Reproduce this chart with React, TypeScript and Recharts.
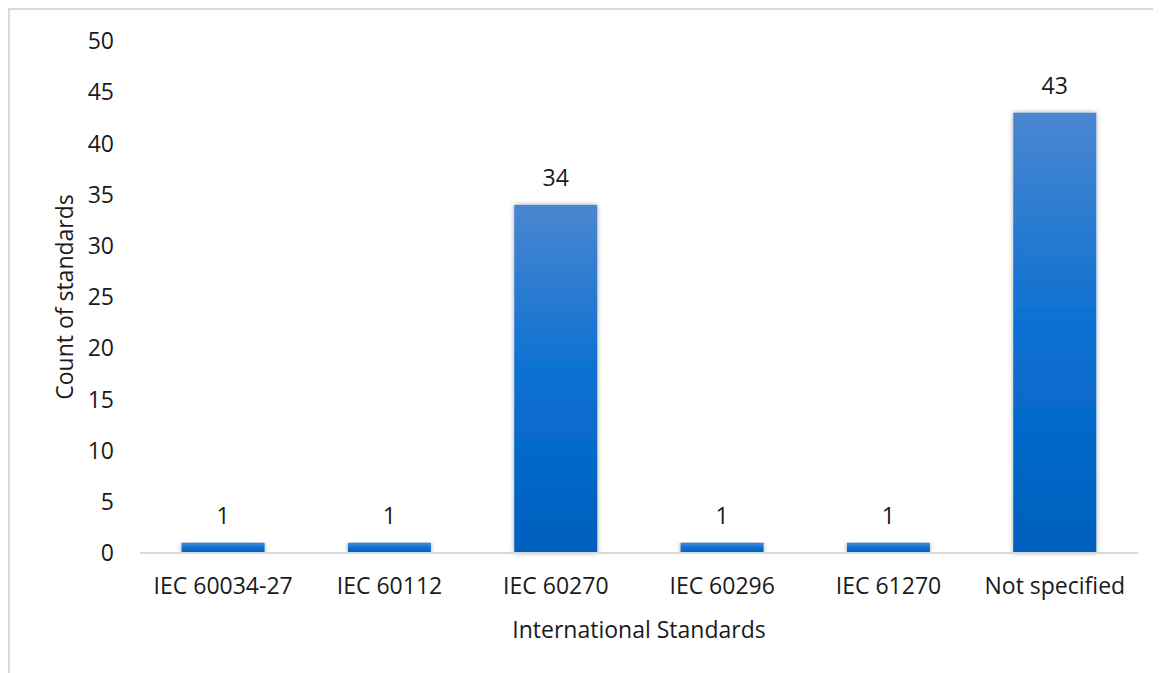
import React from "react";
import { BarChart, Bar, XAxis, YAxis, LabelList, Label } from "recharts";

const categories = ["IEC 60034-27", "IEC 60112", "IEC 60270", "IEC 60296", "IEC 61270", "Not specified"];
const counts = [1, 1, 34, 1, 1, 43];
const yTicks = [0, 5, 10, 15, 20, 25, 30, 35, 40, 45, 50];

const data = categories.map((name, i) => ({ name, count: counts[i] }));

const FONT = "'Open Sans', 'Noto Sans', sans-serif";
const TEXT = "#1a1a1a";
const FS = 23;

const ShadowBar = (props: any) => {
  const { x, y, width, height } = props;
  if (!height || height <= 0) return null;
  return (
    <rect x={x} y={y} width={width} height={height} fill="url(#barGrad)" filter="url(#barShadow)" />
  );
};

export default function App() {
  return (
    <div
      style={{
        width: 1160,
        height: 670,
        borderLeft: "2px solid #d9d9d9",
        borderTop: "2px solid #d9d9d9",
        boxSizing: "border-box",
        position: "relative",
      }}
    >
      <BarChart
        width={1150}
        height={663}
        data={data}
        margin={{ top: 31, right: 22, left: 0, bottom: 0 }}
        barCategoryGap="25%"
        style={{ fontFamily: FONT }}
      >
        <defs>
          <linearGradient id="barGrad" x1="0" y1="0" x2="0" y2="1">
            <stop offset="0%" stopColor="#4a86d0" />
            <stop offset="50%" stopColor="#0a70d2" />
            <stop offset="100%" stopColor="#005fbd" />
          </linearGradient>
          <filter id="barShadow" x="-20%" y="-5%" width="140%" height="110%">
            <feGaussianBlur in="SourceAlpha" stdDeviation="2.5" />
            <feOffset dx="0" dy="0" result="blur" />
            <feComponentTransfer>
              <feFuncA type="linear" slope="0.35" />
            </feComponentTransfer>
            <feMerge>
              <feMergeNode />
              <feMergeNode in="SourceGraphic" />
            </feMerge>
          </filter>
        </defs>
        <XAxis
          dataKey="name"
          height={120}
          axisLine={{ stroke: "#d9d9d9", strokeWidth: 2 }}
          tickLine={false}
          tickSize={0}
          tickMargin={25}
          tick={{ fill: TEXT, fontSize: FS, fontFamily: FONT }}
          interval={0}
        >
          <Label
            content={(p: any) => {
              const vb = p.viewBox;
              return (
                <text
                  x={vb.x + vb.width / 2}
                  y={619}
                  textAnchor="middle"
                  dominantBaseline="central"
                  fill={TEXT}
                  fontSize={FS}
                  fontFamily={FONT}
                >
                  International Standards
                </text>
              );
            }}
          />
        </XAxis>
        <YAxis
          width={130}
          domain={[0, 50]}
          ticks={yTicks}
          interval={0}
          axisLine={false}
          tickLine={false}
          tickSize={0}
          tickMargin={26}
          tick={{ fill: TEXT, fontSize: FS, fontFamily: FONT }}
        >
          <Label
            content={(p: any) => {
              const vb = p.viewBox;
              const cx = 54;
              const cy = vb.y + vb.height / 2;
              return (
                <text
                  x={cx}
                  y={cy}
                  transform={`rotate(-90 ${cx} ${cy})`}
                  textAnchor="middle"
                  dominantBaseline="central"
                  fill={TEXT}
                  fontSize={FS}
                  fontFamily={FONT}
                >
                  Count of standards
                </text>
              );
            }}
          />
        </YAxis>
        <Bar dataKey="count" shape={ShadowBar} isAnimationActive={false}>
          <LabelList
            dataKey="count"
            position="top"
            offset={19}
            fill={TEXT}
            fontSize={FS}
            fontFamily={FONT}
          />
        </Bar>
      </BarChart>
    </div>
  );
}
